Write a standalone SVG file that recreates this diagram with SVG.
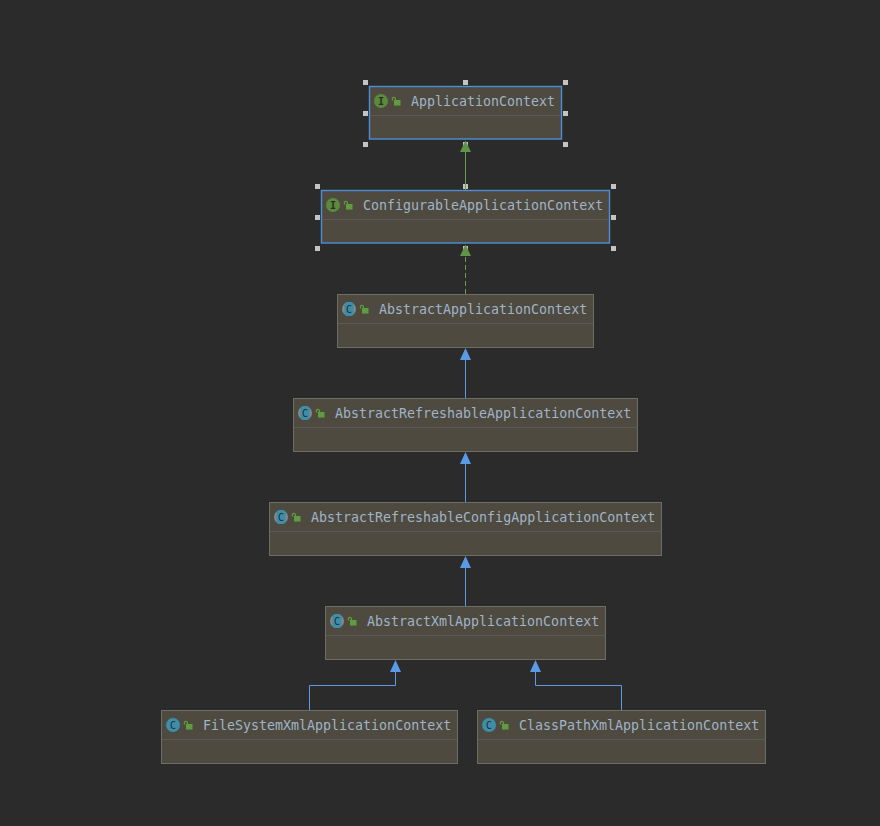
<svg xmlns="http://www.w3.org/2000/svg" width="880" height="826" viewBox="0 0 880 826">
<style>
.box{fill:#4e4a40;stroke:#6d6d68;stroke-width:1}
.sel{fill:#4e4a40;stroke:#4d8fd6;stroke-width:1.4}
.div{stroke:#5c5a54;stroke-width:1}
.lbl{font-family:"DejaVu Sans Mono","Liberation Mono",monospace;font-size:13.3px;fill:#9fb4c9}
.ic{font-family:"DejaVu Sans Mono","Liberation Mono",monospace;font-size:10px;fill:#2b2b2b;text-anchor:middle}
.h{fill:#c4c4c4}
.blue{fill:none;stroke:#5a9ae6;stroke-width:1}
.green{fill:none;stroke:#6a9955;stroke-width:1}
.lockb{fill:#5f9e3f}
.lockl{fill:none;stroke:#5f9e3f;stroke-width:1.2}
</style>
<defs>
<g id="lock"><rect class="lockb" x="2" y="3" width="6.500" height="5.500"/><path class="lockl" d="M0.400 3.500V1.700Q0.400 0.400 1.900 0.400Q3.400 0.400 3.400 1.700V3"/></g>
<g id="iI"><circle r="7" fill="#5a8a3a"/><text class="ic" y="3.500" font-weight="bold">I</text></g>
<g id="iA"><circle r="7" fill="#85898c"/><rect x="-4.700" y="-7" width="9.400" height="14" rx="3.500" fill="#3d8ea8"/><text class="ic" y="3.500">C</text></g>
<g id="iC"><circle r="7" fill="#3d8ea8"/><text class="ic" y="3.500">C</text></g>
</defs>
<rect width="880" height="826" fill="#2b2b2b"/>
<g id="n-applicationcontext">
<rect class="sel" x="369.500" y="86.500" width="192" height="52.500"/>
<line class="div" x1="370" x2="561" y1="115.500" y2="115.500"/>
<use href="#iI" x="381" y="101"/><use href="#lock" x="392" y="97"/>
<text class="lbl" x="411" y="106">ApplicationContext</text>
<g id="h1">
<rect class="h" x="363" y="80" width="5" height="5"/><rect class="h" x="463" y="80" width="5" height="5"/><rect class="h" x="563" y="80" width="5" height="5"/>
<rect class="h" x="363" y="111" width="5" height="5"/><rect class="h" x="563" y="111" width="5" height="5"/>
<rect class="h" x="363" y="142" width="5" height="5"/><rect class="h" x="463" y="142" width="5" height="5"/><rect class="h" x="563" y="142" width="5" height="5"/>
</g>
</g>
<g id="n-configurable">
<rect class="sel" x="321.500" y="190.500" width="288" height="52.500"/>
<line class="div" x1="322" x2="609" y1="219.500" y2="219.500"/>
<use href="#iI" x="333" y="205"/><use href="#lock" x="344" y="201"/>
<text class="lbl" x="363" y="210">ConfigurableApplicationContext</text>
<g id="h2">
<rect class="h" x="315" y="184" width="5" height="5"/><rect class="h" x="463" y="184" width="5" height="5"/><rect class="h" x="611" y="184" width="5" height="5"/>
<rect class="h" x="315" y="215" width="5" height="5"/><rect class="h" x="611" y="215" width="5" height="5"/>
<rect class="h" x="315" y="246" width="5" height="5"/><rect class="h" x="463" y="246" width="5" height="5"/><rect class="h" x="611" y="246" width="5" height="5"/>
</g>
</g>
<g id="n-abstract">
<rect class="box" x="337.500" y="294.500" width="256" height="53"/>
<line class="div" x1="338" x2="593" y1="323.500" y2="323.500"/>
<use href="#iA" x="349" y="309"/><use href="#lock" x="360" y="305"/>
<text class="lbl" x="379" y="314">AbstractApplicationContext</text>
</g>
<g id="n-refreshable">
<rect class="box" x="293.500" y="398.500" width="344" height="53"/>
<line class="div" x1="294" x2="637" y1="427.500" y2="427.500"/>
<use href="#iA" x="305" y="413"/><use href="#lock" x="316" y="409"/>
<text class="lbl" x="335" y="418">AbstractRefreshableApplicationContext</text>
</g>
<g id="n-refreshableconfig">
<rect class="box" x="269.500" y="502.500" width="392" height="53"/>
<line class="div" x1="270" x2="661" y1="531.500" y2="531.500"/>
<use href="#iA" x="281" y="517"/><use href="#lock" x="292" y="513"/>
<text class="lbl" x="311" y="522">AbstractRefreshableConfigApplicationContext</text>
</g>
<g id="n-xml">
<rect class="box" x="325.500" y="606.500" width="280" height="53"/>
<line class="div" x1="326" x2="605" y1="635.500" y2="635.500"/>
<use href="#iA" x="337" y="621"/><use href="#lock" x="348" y="617"/>
<text class="lbl" x="367" y="626">AbstractXmlApplicationContext</text>
</g>
<g id="n-filesystem">
<rect class="box" x="161.500" y="710.500" width="296" height="53"/>
<line class="div" x1="162" x2="457" y1="739.500" y2="739.500"/>
<use href="#iC" x="173" y="725"/><use href="#lock" x="184" y="721"/>
<text class="lbl" x="203" y="730">FileSystemXmlApplicationContext</text>
</g>
<g id="n-classpath">
<rect class="box" x="477.500" y="710.500" width="288" height="53"/>
<line class="div" x1="478" x2="765" y1="739.500" y2="739.500"/>
<use href="#iC" x="489" y="725"/><use href="#lock" x="500" y="721"/>
<text class="lbl" x="519" y="730">ClassPathXmlApplicationContext</text>
</g>
<g id="connectors">
<path class="green" d="M465.500 190V150"/>
<polygon points="465.500,140.500 460,152 471,152" fill="#5f9348"/>
<path class="green" d="M465.500 294V254" stroke-dasharray="5 3"/>
<polygon points="465.500,244.500 460,256 471,256" fill="#5f9348"/>
<path class="blue" d="M465.500 398V358"/>
<polygon points="465.500,348 460,360 471,360" fill="#5a9ae6"/>
<path class="blue" d="M465.500 502V462"/>
<polygon points="465.500,452 460,464 471,464" fill="#5a9ae6"/>
<path class="blue" d="M465.500 606V566"/>
<polygon points="465.500,556 460,568 471,568" fill="#5a9ae6"/>
<path class="blue" d="M309.500 710V685.500H395.500V670"/>
<polygon points="395.500,660 390,672 401,672" fill="#5a9ae6"/>
<path class="blue" d="M621.500 710V685.500H535.500V670"/>
<polygon points="535.500,660 530,672 541,672" fill="#5a9ae6"/>
</g>
</svg>
